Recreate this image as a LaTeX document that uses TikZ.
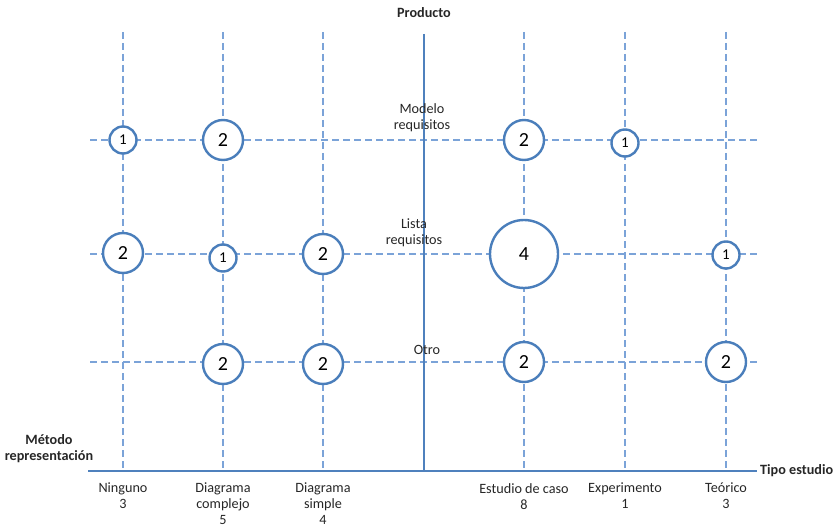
\documentclass[tikz,border=0pt]{standalone}
\usepackage{fontspec}
\setmainfont{Carlito}
\definecolor{axisblue}{HTML}{4F81BD}
\definecolor{gridblue}{HTML}{7BA3D8}
\definecolor{circblue}{HTML}{4A7EBB}
\begin{document}
\begin{tikzpicture}[x=1pt,y=-1pt,
  gridline/.style={draw=gridblue,line width=1.1pt,dash pattern=on 7pt off 4pt},
  axisline/.style={draw=axisblue,line width=1.8pt},
  bub/.style={circle,draw=circblue,line width=2.4pt,fill=white,inner sep=0pt,font=\fontsize{20}{20}\selectfont},
  bsmall/.style={bub,minimum size=27pt,font=\fontsize{15}{15}\selectfont},
  bmid/.style={bub,minimum size=40pt},
  bbig/.style={bub,minimum size=68pt},
  lab/.style={font=\fontsize{14.2}{16}\selectfont,align=center,inner sep=0pt,text=black!85},
  blab/.style={lab,font=\fontsize{14.2}{16}\selectfont\bfseries}]
\useasboundingbox (0,0) rectangle (834,529);
% grid coordinates
\foreach \n/\x in {c1/123,c2/223,c3/323,c5/524,c6/625,c7/726}{
  \coordinate (\n top) at (\x,32);
  \coordinate (\n bot) at (\x,471);
}
\foreach \n/\y in {r1/140,r2/254,r3/362}{
  \coordinate (\n l) at (90,\y);
  \coordinate (\n r) at (757,\y);
}
\foreach \n in {c1,c2,c3,c5,c6,c7}{\draw[gridline] (\n top) -- (\n bot);}
\foreach \n in {r1,r2,r3}{\draw[gridline] (\n l) -- (\n r);}
% axes
\coordinate (ytop) at (424,34);
\coordinate (xl) at (88,471);
\coordinate (xr) at (757,471);
\coordinate (ybot) at (424,471);
\draw[axisline] (ytop) -- (ybot);
\draw[axisline] (xl) -- (xr);
% axis titles
\node[blab,anchor=center] (prod) at (424,13) {Producto};
\node[blab,anchor=west] (tipo) at (760,471) {Tipo estudio};
\node[blab] (metodo) at (49,449) {Método\\representación};
% row labels
\node[lab] (modelo) at (422,118) {Modelo\\requisitos};
\node[lab] (lista) at (414,233) {Lista\\requisitos};
\node[lab] (otro) at (427,350) {Otro};
% column labels
\node[lab,anchor=north] (ninguno) at (123,483) {Ninguno\\3};
\node[lab,anchor=north] (dcomp) at (223,483) {Diagrama\\complejo\\5};
\node[lab,anchor=north] (dsimp) at (323,483) {Diagrama\\simple\\4};
\node[lab,anchor=north] (ecaso) at (524,483) {Estudio de caso\\8};
\node[lab,anchor=north] (exper) at (625,483) {Experimento\\1};
\node[lab,anchor=north] (teor) at (726,483) {Teórico\\3};
% bubbles
\node[bsmall] (b11) at (123,140) {1};
\node[bmid]   (b12) at (223,140) {2};
\node[bmid]   (b15) at (524,140) {2};
\node[bsmall] (b16) at (625,143) {1};
\node[bmid]   (b21) at (123,253) {2};
\node[bsmall] (b22) at (223,258) {1};
\node[bmid]   (b23) at (323,254) {2};
\node[bbig]   (b25) at (524,254) {4};
\node[bsmall] (b27) at (726,255) {1};
\node[bmid]   (b32) at (223,364) {2};
\node[bmid]   (b33) at (323,364) {2};
\node[bmid]   (b35) at (524,362) {2};
\node[bmid]   (b37) at (726,362) {2};
\end{tikzpicture}
\end{document}
